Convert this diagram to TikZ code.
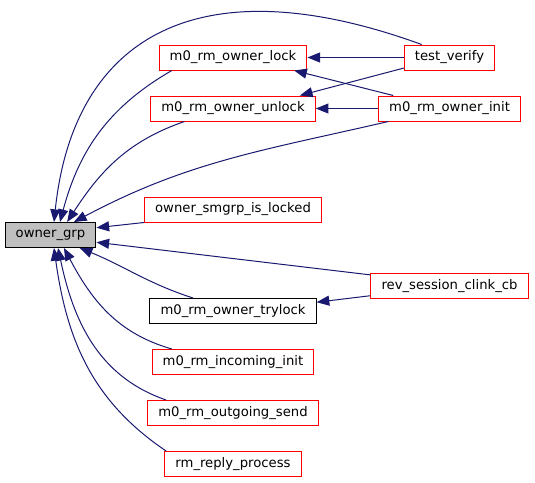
\documentclass[tikz,border=0pt]{standalone}
\usepackage{fontspec}
\setmainfont{DejaVu Sans}
\usetikzlibrary{arrows.meta,positioning}
\definecolor{edgeblue}{HTML}{191970}
\definecolor{boxgray}{HTML}{BFBFBF}
\begin{document}
\begin{tikzpicture}[
            x=0.75pt, y=0.75pt,
            fn/.style={draw=red,line width=0.75pt,rectangle,minimum height=18.75pt,inner xsep=8pt,inner ysep=0pt,font=\fontsize{9.9}{12}\selectfont},
            fnb/.style={fn,draw=black},
            cur/.style={fnb,fill=boxgray},
            call/.style={draw=edgeblue,line width=0.75pt,-{Triangle[length=9.5pt,width=7.5pt]}},
        ]

        \useasboundingbox (0,0) rectangle (535,-482);

        \tikzset{
            node distance=38.25pt,
        }

        \node[cur] (og) at (50.5,-235) {owner\_grp};
        \node[fn] (lock) at (233,-57.5) {m0\_rm\_owner\_lock};
        \node[fn,below of=lock] (unlock) {m0\_rm\_owner\_unlock};
        \node[fn] (smgrp) at (233,-209.5) {owner\_smgrp\_is\_locked};
        \node[fnb] (trylock) at (233,-311) {m0\_rm\_owner\_trylock};
        \node[fn,below of=trylock] (incinit) {m0\_rm\_incoming\_init};
        \node[fn,below of=incinit] (outsend) {m0\_rm\_outgoing\_send};
        \node[fn,below of=outsend] (reply) {rm\_reply\_process};
        \node[fn,right of=lock,node distance=162.4pt] (tv) {test\_verify};
        \node[fn,below of=tv] (init) {m0\_rm\_owner\_init};
        \node[fn] (rev) at (449.5,-286) {rev\_session\_clink\_cb};

        \path[every edge/.style={call}]
            (tv.west) edge (lock.east)
            (tv.193) edge (unlock.11)
            (init.167) edge (lock.-12)
            (init.west) edge (unlock.east)
            (rev.187) edge (trylock.6)
            (smgrp.south west) edge (og.9)
            (rev.172) edge (og.-9)
            (tv.155) edge[out=160,in=84,out looseness=1.5,in looseness=1.16] (og.75)
            (lock.192) edge[out=210,in=75] (og.54)
            (unlock.195) edge[out=199,in=57] (og.38)
            (init.192) edge[out=193,in=28] (og.29)
            (trylock.162) edge[out=162,in=-22] (og.-24)
            (incinit.168) edge[out=164,in=-62] (og.-44)
            (outsend.169) edge[out=161,in=-78] (og.-60)
            (reply.169) edge[out=146,in=-82] (og.-75)
        ;

\end{tikzpicture}
\end{document}
